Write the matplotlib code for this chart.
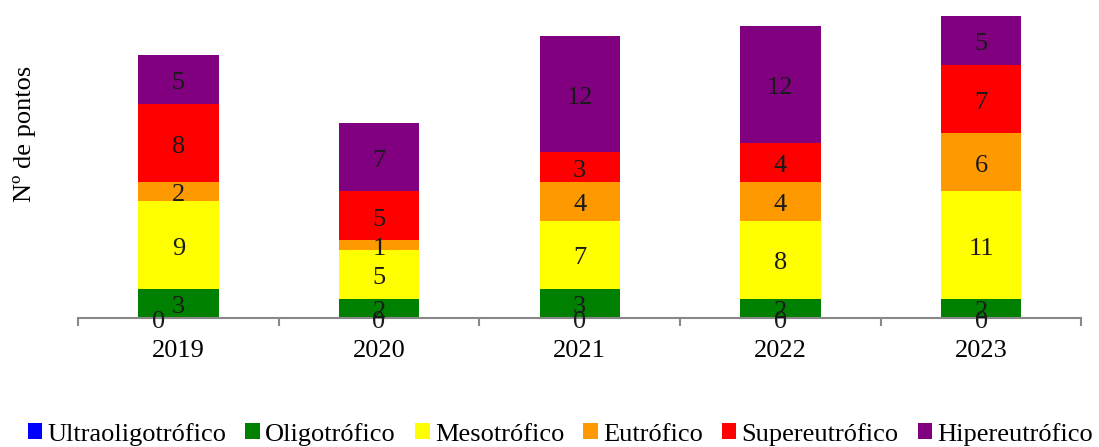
import matplotlib
matplotlib.use("Agg")
import matplotlib.pyplot as plt
import numpy as np

years = ["2019", "2020", "2021", "2022", "2023"]
categories = ["Ultraoligotrófico", "Oligotrófico", "Mesotrófico", "Eutrófico",
              "Supereutrófico", "Hipereutrófico"]
ultra = [0, 0, 0, 0, 0]
oligo = [3, 2, 3, 2, 2]
meso = [9, 5, 7, 8, 11]
eutro = [2, 1, 4, 4, 6]
super_ = [8, 5, 3, 4, 7]
hiper = [5, 7, 12, 12, 5]
series = [ultra, oligo, meso, eutro, super_, hiper]
colors = ["#0000FF", "#008000", "#FFFF00", "#FF9900", "#FF0000", "#800080"]

plt.rcParams['font.family'] = ['Liberation Serif', 'DejaVu Serif']
FS = 19

fig = plt.figure(figsize=(10.99, 4.47), dpi=100)
ax = fig.add_axes([0.071, 0.2886, 0.913, 0.697])

x = np.arange(len(years))
bottom = np.zeros(len(years))
for si, (vals, col, name) in enumerate(zip(series, colors, categories)):
    vals = np.array(vals, dtype=float)
    ax.bar(x, vals, 0.4, bottom=bottom, color=col, label=name, linewidth=0)
    for xi, b, v in zip(x, bottom, vals):
        dx = -0.1 if (si == 0 and xi == 0) else 0.0
        ax.annotate(f"{int(v)}", (xi + dx, b + v / 2), xytext=(0, -0.37 * FS),
                    textcoords="offset points", ha="center", va="baseline",
                    fontsize=FS, color="#1a1a1a")
    bottom += vals

ax.set_xlim(-0.5, 4.5)
ax.set_ylim(0, 32)
for s in ["top", "right", "left"]:
    ax.spines[s].set_visible(False)
ax.spines["bottom"].set_color("#888888")
ax.spines["bottom"].set_linewidth(1.5)
ax.set_yticks([])
ax.set_xticks(x)
ax.set_xticklabels(years, fontsize=FS)
ax.tick_params(axis="x", length=0, pad=16)
ax.set_xticks(np.arange(-0.5, 5.0, 1.0), minor=True)
ax.tick_params(axis="x", which="minor", length=6, width=1.5, color="#888888")
ax.set_ylabel("Nº de pontos", fontsize=FS)
ax.yaxis.set_label_coords(-0.042, 0.592)

handles, labels = ax.get_legend_handles_labels()
fig.legend(handles, labels, loc="lower center", bbox_to_anchor=(0.51, -0.05),
           ncol=6, frameon=False, fontsize=FS, handlelength=0.55,
           handleheight=0.55, handletextpad=0.2, columnspacing=0.72)

fig.savefig("out.png", dpi=100)
